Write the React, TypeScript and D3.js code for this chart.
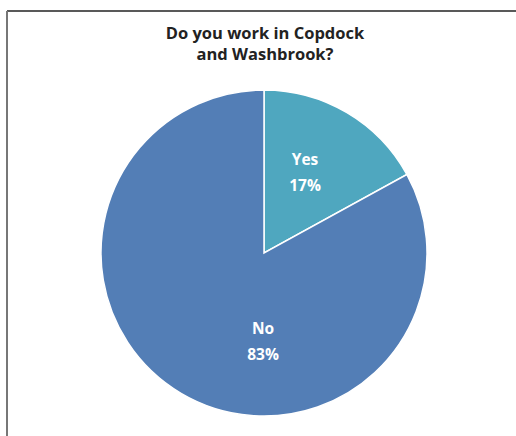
import React from "react";
import * as d3 from "d3";

const categories = ["Yes", "No"];
const values = [17, 83];
const colors = ["#4FA7BF", "#537EB6"];
const titleLines = ["Do you work in Copdock", "and Washbrook?"];

export default function App() {
  const W = 516, H = 436;
  const cx = 264, cy = 253, r = 163;
  const pie = d3.pie<number>().sort(null).value((d) => d)(values);
  const arc = d3.arc<d3.PieArcDatum<number>>().innerRadius(0).outerRadius(r);
  const labelPos = [
    [305 - cx, 172 - cy],
    [263 - cx, 341 - cy],
  ];
  return (
    <svg width={W} height={H} style={{ position: "absolute", left: 0, top: 0 }}>
      <rect x={0} y={0} width={W} height={H} fill="#fff" />
      <line x1={7} y1={11} x2={W} y2={11} stroke="#222" strokeWidth={1.5} />
      <line x1={7} y1={11} x2={7} y2={H} stroke="#777" strokeWidth={2} />
      <g fontFamily="'Open Sans', sans-serif" fontWeight="bold" fontSize={16.5} fill="#222" textAnchor="middle">
        {titleLines.map((t, i) => (
          <text key={i} x={265} y={38.5 + i * 21}>{t}</text>
        ))}
      </g>
      <g transform={`translate(${cx},${cy})`}>
        {pie.map((p, i) => (
          <path key={i} d={arc(p) || ""} fill={colors[i]} stroke="#fff" strokeWidth={1.5} />
        ))}
        {pie.map((p, i) => (
          <text key={"l" + i} x={labelPos[i][0]} y={labelPos[i][1]} textAnchor="middle"
            fontFamily="'Open Sans', sans-serif" fontWeight="bold" fontSize={15.5} fill="#fff">
            <tspan x={labelPos[i][0]} dy={-7}>{categories[i]}</tspan>
            <tspan x={labelPos[i][0]} dy={25.5}>{Math.round((p.value / d3.sum(values)) * 100)}%</tspan>
          </text>
        ))}
      </g>
    </svg>
  );
}
